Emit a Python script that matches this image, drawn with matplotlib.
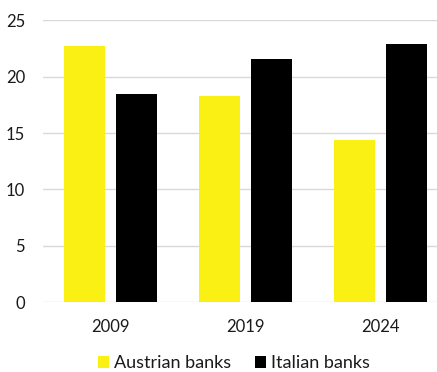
import matplotlib
matplotlib.use("Agg")
import matplotlib.pyplot as plt
import numpy as np

# ── Data ──────────────────────────────────────────────────────────────────────
years    = ["2009", "2019", "2024"]
austrian = [22.7, 18.3, 14.4]
italian  = [18.5, 21.6, 22.9]

# ── Style ─────────────────────────────────────────────────────────────────────
YELLOW   = "#FAF014"
BLACK    = "#000000"
GRID     = "#D9D9D9"
TEXT     = "#1a1a1a"
BAR_W    = 0.304
OFFSET   = 0.193

plt.rcParams["font.family"] = ["Lato", "DejaVu Sans"]

fig = plt.figure(figsize=(4.37, 3.72), dpi=100)
ax = fig.add_axes([0.0984, 0.188, 0.9016, 0.757])

x = np.arange(len(years))
ax.bar(x - OFFSET, austrian, width=BAR_W, color=YELLOW, label="Austrian banks", zorder=2)
ax.bar(x + OFFSET, italian, width=BAR_W, color=BLACK, label="Italian banks", zorder=2)

ax.set_ylim(0, 25)
ax.set_xlim(-0.5, 2.418)
ax.set_yticks(range(0, 26, 5))
ax.set_xticks(x)
ax.set_xticklabels(years)

ax.grid(axis="y", color=GRID, linewidth=1.0, zorder=0)
ax.set_axisbelow(True)
for s in ax.spines.values():
    s.set_visible(False)
ax.tick_params(axis="both", length=0, labelsize=12, colors=TEXT)
ax.tick_params(axis="y", pad=13)
ax.tick_params(axis="x", pad=12)

fig.legend(loc="lower center", bbox_to_anchor=(0.535, 0.002), ncol=2, frameon=False,
           fontsize=13, handlelength=0.61, handleheight=0.61, handletextpad=0.28,
           columnspacing=1.33, borderpad=0, borderaxespad=0, labelcolor=TEXT)

fig.savefig("out.png", dpi=100)
